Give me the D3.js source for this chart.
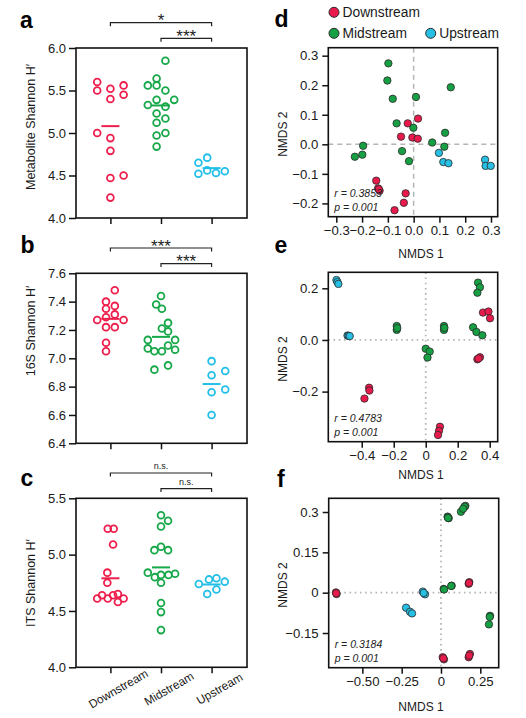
<!DOCTYPE html>
<html><head><meta charset="utf-8">
<script src="https://cdn.jsdelivr.net/npm/d3@7/dist/d3.min.js"></script>
<style>body{margin:0;background:#fff}svg{display:block}</style>
</head><body><svg id="c" width="526" height="718"></svg>
<script>
// ---------------- DATA ----------------
const groups = ["Downstream", "Midstream", "Upstream"];

// (a) Metabolite Shannon H'  (values + swarm slot, in half-diameter units)
const metaDown = [5.60, 5.50, 5.00, 5.52, 5.40, 4.94, 4.79, 4.47, 4.24, 5.56, 5.45, 4.50];
const metaDownSlot = [-3, -3, -3, 0, 0, 0, 0, 0, 0, 3, 3, 3];
const metaMid = [5.85, 5.64, 5.56, 5.56, 5.50, 5.39, 5.39, 5.33, 5.31, 5.23, 5.17, 5.12, 5.00, 4.97, 4.84];
const metaMidSlot = [1, -1, -3, -1, 1, -1, 3, -3, 1, -1, 1, -1, 1, -1, -1];
const metaUp = [4.71, 4.65, 4.56, 4.52, 4.53, 4.55];
const metaUpSlot = [-1, -3, -1, -3, 1, 3];
const metaTicks = [4.0, 4.5, 5.0, 5.5, 6.0];
const metaSig = ["*", "***"];

// (b) 16S Shannon H'
const rnaDown = [7.48, 7.40, 7.37, 7.35, 7.31, 7.29, 7.27, 7.27, 7.22, 7.22, 7.11, 7.05];
const rnaDownSlot = [1, -1, 1, -1, 1, -1, -3, 3, -1, 1, -1, -1];
const rnaMid = [7.44, 7.38, 7.35, 7.25, 7.21, 7.19, 7.13, 7.13, 7.07, 7.05, 7.05, 7.09, 7.06, 6.92, 6.95];
const rnaMidSlot = [0, -1.1, 0.2, 1.6, 0.2, 1.6, -3, 3.2, -3, -1.5, 0.2, 1.6, 3.2, -1.5, 1.6];
const rnaUp = [6.98, 6.91, 6.88, 6.78, 6.76, 6.60];
const rnaUpSlot = [0, 3.1, 0, 3.1, 0, 0];
const rnaTicks = [6.4, 6.6, 6.8, 7.0, 7.2, 7.4, 7.6];
const rnaSig = ["***", "***"];

// (c) ITS Shannon H'
const itsDown = [5.23, 5.23, 5.09, 4.84, 4.75, 4.61, 4.64, 4.61, 4.64, 4.65, 4.58, 4.61];
const itsDownSlot = [-0.6, 0.75, 0.6, -0.7, -0.7, -3, -1.9, -0.6, 0.6, 1.7, 1.7, 3];
const itsMid = [5.35, 5.30, 5.25, 5.04, 5.07, 5.04, 4.84, 4.80, 4.82, 4.82, 4.83, 4.75, 4.57, 4.49, 4.33];
const itsMidSlot = [0, 1.6, 0, -1.5, 0, 1.6, -3, -1.4, 0, 1.7, 3.2, 0, 0, 0, 0];
const itsUp = [4.74, 4.78, 4.79, 4.76, 4.69, 4.65];
const itsUpSlot = [-2.9, -0.6, 1.1, 3, 1.1, -1];
const itsTicks = [4.0, 4.5, 5.0, 5.5];
const itsSig = ["n.s.", "n.s."];

// (d) NMDS metabolites  [NMDS1, NMDS2]
const dDown = [[0.017,0.087],[-0.023,0.071],[-0.049,0.026],[-0.005,0.023],[0.016,0.019],[-0.145,-0.123],[-0.138,-0.149],[-0.132,-0.157],[-0.135,-0.152],[-0.031,-0.166],[-0.038,-0.198],[-0.074,-0.223]];
const dMid = [[-0.098,0.274],[-0.102,0.216],[-0.081,0.154],[0.009,0.160],[0.144,0.193],[-0.066,0.071],[-0.001,0.056],[0.122,0.039],[0.072,0.006],[0.119,-0.008],[-0.196,-0.005],[-0.199,-0.035],[-0.228,-0.042],[-0.045,-0.023],[-0.018,-0.057]];
const dUp = [[0.098,-0.029],[0.115,-0.060],[0.135,-0.064],[0.277,-0.052],[0.279,-0.073],[0.299,-0.073]];
const dXTicks = [-0.3, -0.2, -0.1, 0, 0.1, 0.2, 0.3];
const dXLabels = ["\u22120.3", "\u22120.2", "\u22120.1", "0.0", "0.1", "0.2", "0.3"];
const dYTicks = [-0.2, -0.1, 0, 0.1, 0.2, 0.3];
const dYLabels = ["\u22120.2", "\u22120.1", "0.0", "0.1", "0.2", "0.3"];
const dStats = ["r = 0.3853", "p = 0.001"];

// (e) NMDS 16S
const eDown = [[0.358,0.106],[0.392,0.110],[0.402,0.084],[0.323,-0.075],[0.339,-0.067],[0.330,-0.072],[-0.354,-0.185],[-0.352,-0.196],[-0.383,-0.227],[0.089,-0.336],[0.083,-0.352],[0.077,-0.368]];
const eMid = [[0.327,0.222],[0.339,0.204],[0.323,0.183],[0.296,0.049],[0.317,0.031],[0.354,0.018],[-0.181,0.054],[-0.181,0.039],[-0.178,0.046],[0.114,0.054],[0.114,0.039],[0.117,0.047],[0.000,-0.034],[0.025,-0.045],[0.011,-0.068]];
const eUp = [[-0.558,0.232],[-0.552,0.224],[-0.546,0.217],[-0.489,0.017],[-0.482,0.016],[-0.475,0.015]];
const eXTicks = [-0.4, -0.2, 0, 0.2, 0.4];
const eXLabels = ["\u22120.4", "\u22120.2", "0", "0.2", "0.4"];
const eYTicks = [-0.2, 0, 0.2];
const eYLabels = ["\u22120.2", "0.0", "0.2"];
const eStats = ["r = 0.4783", "p = 0.001"];

// (f) NMDS ITS
const fDown = [[-0.668,0.001],[-0.664,-0.005],[-0.666,-0.002],[0.180,0.039],[0.176,0.033],[0.178,0.036],[0.011,-0.240],[0.019,-0.248],[0.015,-0.244],[0.184,-0.228],[0.176,-0.240],[0.180,-0.234]];
const fMid = [[0.155,0.323],[0.150,0.320],[0.127,0.301],[0.141,0.312],[0.042,0.283],[0.049,0.277],[0.045,0.280],[0.045,0.278],[0.017,0.014],[0.020,0.012],[0.068,0.026],[0.065,0.025],[0.312,-0.086],[0.310,-0.090],[0.305,-0.118]];
const fUp = [[-0.116,0.004],[-0.102,-0.006],[-0.110,-0.001],[-0.222,-0.056],[-0.197,-0.071],[-0.184,-0.077]];
const fXTicks = [-0.5, -0.25, 0, 0.25];
const fXLabels = ["\u22120.50", "\u22120.25", "0", "0.25"];
const fYTicks = [-0.15, 0, 0.15, 0.3];
const fYLabels = ["\u22120.15", "0", "0.15", "0.3"];
const fStats = ["r = 0.3184", "p = 0.001"];

// ---------------- STYLE ----------------
const FONT = '"Liberation Sans", Arial, Helvetica, sans-serif';
const LINE = {Downstream: "#ee1f4d", Midstream: "#17a849", Upstream: "#22bfe8"};
const FILL = {Downstream: "#e8194b", Midstream: "#17a043", Upstream: "#27bfe3"};
const svg = d3.select("#c").attr("font-family", FONT);

function styleAxis(a, fs) {
  a.select(".domain").remove();
  a.selectAll(".tick line").attr("stroke", "#111").attr("stroke-width", 1.5);
  a.selectAll(".tick text").attr("font-size", fs).attr("fill", "#1a1a1a").attr("font-family", FONT);
}

function letter(t, x, y) {
  svg.append("text").attr("x", x).attr("y", y).attr("font-size", 23).attr("font-weight", "bold")
    .attr("fill", "#000").text(t);
}

// ---------------- SWARM PANELS ----------------
function swarmPanel(cfg) {
  const {top, bottom, domain, ticks, sets, title, titleY, sig, sigSmall, showCats} = cfg;
  const left = 76, right = 247;
  const g = svg.append("g");
  const x = d3.scalePoint().domain(groups).range([left, right - 1]).padding(0.68);
  const y = d3.scaleLinear().domain(domain).range([bottom, top]);
  const jx = d3.scaleLinear().domain([-1, 1]).range([-4.4, 4.4]);

  g.append("g").attr("transform", `translate(${left},0)`)
    .call(d3.axisLeft(y).tickValues(ticks).tickFormat(d3.format(".1f")).tickSize(7).tickPadding(3))
    .call(a => styleAxis(a, 13));
  g.append("g").attr("transform", `translate(0,${bottom})`)
    .call(d3.axisBottom(x).tickSize(6).tickFormat(""))
    .call(a => styleAxis(a, 12));
  g.append("rect").attr("x", left).attr("y", top).attr("width", right - left).attr("height", bottom - top)
    .attr("fill", "none").attr("stroke", "#111").attr("stroke-width", 1.6);

  sets.forEach(([vals, slots], i) => {
    const grp = groups[i];
    const cx = x(grp);
    const m = d3.mean(vals);
    g.append("line").attr("x1", cx - 9).attr("x2", cx + 9).attr("y1", y(m)).attr("y2", y(m))
      .attr("stroke", LINE[grp]).attr("stroke-width", 2);
    g.selectAll(null).data(vals).join("circle")
      .attr("cx", (d, k) => cx + jx(slots[k])).attr("cy", d => y(d)).attr("r", 3.4)
      .attr("fill", "none").attr("stroke", LINE[grp]).attr("stroke-width", 1.8);
  });

  // significance brackets
  const br = [[groups[0], groups[2], top - 25.3, sig[0]], [groups[1], groups[2], top - 9.7, sig[1]]];
  br.forEach(([a, b, yy, lab]) => {
    g.append("path").attr("d", `M${x(a)},${yy + 3.5}V${yy}H${x(b)}V${yy + 3.5}`)
      .attr("fill", "none").attr("stroke", "#222").attr("stroke-width", 1.2);
    g.append("text").attr("x", (x(a) + x(b)) / 2).attr("y", sigSmall ? yy - 3.6 : yy + 3.5)
      .attr("text-anchor", "middle").attr("font-size", sigSmall ? 9 : 17).attr("fill", "#222").text(lab);
  });

  g.append("text").attr("transform", `translate(31,${titleY}) rotate(-90)`).attr("text-anchor", "middle")
    .attr("dominant-baseline", "central").attr("font-size", 12.5).attr("fill", "#1a1a1a").text(title);

  if (showCats) {
    groups.forEach(grp => {
      g.append("text").attr("transform", `translate(${x(grp) + 8},${bottom + 21.5}) rotate(-30)`)
        .attr("text-anchor", "middle").attr("dominant-baseline", "central")
        .attr("font-size", 11.8).attr("fill", "#1a1a1a").text(grp);
    });
  }
}

swarmPanel({top: 48, bottom: 218, domain: [4.0, 6.0], ticks: metaTicks,
  sets: [[metaDown, metaDownSlot], [metaMid, metaMidSlot], [metaUp, metaUpSlot]],
  title: "Metabolite Shannon H\u2032", titleY: 127, sig: metaSig});
swarmPanel({top: 273.3, bottom: 443.3, domain: [6.4, 7.6], ticks: rnaTicks,
  sets: [[rnaDown, rnaDownSlot], [rnaMid, rnaMidSlot], [rnaUp, rnaUpSlot]],
  title: "16S Shannon H\u2032", titleY: 331, sig: rnaSig});
swarmPanel({top: 498.3, bottom: 667.3, domain: [4.0, 5.5], ticks: itsTicks,
  sets: [[itsDown, itsDownSlot], [itsMid, itsMidSlot], [itsUp, itsUpSlot]],
  title: "ITS Shannon H\u2032", titleY: 583, sig: itsSig, sigSmall: true, showCats: true});

letter("a", 20, 27.5);
letter("b", 20.5, 253);
letter("c", 20.5, 486);

// ---------------- NMDS PANELS ----------------
function nmdsPanel(cfg) {
  const {box: [l, r, t, b], xdom, ydom, xt, xl, yt, yl, sets, stats, dashed, xTitleY} = cfg;
  const g = svg.append("g");
  const x = d3.scaleLinear().domain(xdom).range([l, r]);
  const y = d3.scaleLinear().domain(ydom).range([b, t]);
  const dash = dashed ? "5,4" : "1.6,3.6";
  const refW = dashed ? 1.5 : 1.8;
  g.append("line").attr("x1", x(0)).attr("x2", x(0)).attr("y1", t).attr("y2", b)
    .attr("stroke", "#b5b5b5").attr("stroke-width", refW).attr("stroke-dasharray", dash);
  g.append("line").attr("x1", l).attr("x2", r).attr("y1", y(0)).attr("y2", y(0))
    .attr("stroke", "#b5b5b5").attr("stroke-width", refW).attr("stroke-dasharray", dash);

  g.append("g").attr("transform", `translate(${l},0)`)
    .call(d3.axisLeft(y).tickValues(yt).tickFormat((d, i) => yl[i]).tickSize(6).tickPadding(4))
    .call(a => styleAxis(a, 13.2));
  g.append("g").attr("transform", `translate(0,${b})`)
    .call(d3.axisBottom(x).tickValues(xt).tickFormat((d, i) => xl[i]).tickSize(6).tickPadding(3))
    .call(a => styleAxis(a, 13.2));
  g.append("rect").attr("x", l).attr("y", t).attr("width", r - l).attr("height", b - t)
    .attr("fill", "none").attr("stroke", "#111").attr("stroke-width", 1.6);

  sets.forEach((pts, i) => {
    g.selectAll(null).data(pts).join("circle")
      .attr("cx", d => x(d[0])).attr("cy", d => y(d[1])).attr("r", 3.7)
      .attr("fill", FILL[groups[i]]).attr("stroke", "#2a2a2a").attr("stroke-width", 0.8);
  });

  stats.forEach((s, i) => {
    g.append("text").attr("x", l + 6).attr("y", b - 19.5 + i * 14).attr("font-size", 10.5)
      .attr("font-style", "italic").attr("fill", "#222").text(s);
  });

  g.append("text").attr("x", 421).attr("y", xTitleY).attr("text-anchor", "middle")
    .attr("font-size", 12).attr("fill", "#1a1a1a").text("NMDS 1");
  g.append("text").attr("transform", `translate(283,${(t + b) / 2 + 2}) rotate(-90)`)
    .attr("text-anchor", "middle").attr("dominant-baseline", "central")
    .attr("font-size", 12).attr("fill", "#1a1a1a").text("NMDS 2");
}

nmdsPanel({box: [328.3, 497.7, 47.7, 216.7], xdom: [-0.331, 0.326], ydom: [-0.245, 0.327],
  xt: dXTicks, xl: dXLabels, yt: dYTicks, yl: dYLabels, sets: [dDown, dMid, dUp], stats: dStats,
  dashed: true, xTitleY: 258});
nmdsPanel({box: [328.3, 497.7, 272.3, 441.7], xdom: [-0.609, 0.450], ydom: [-0.394, 0.262],
  xt: eXTicks, xl: eXLabels, yt: eYTicks, yl: eYLabels, sets: [eDown, eMid, eUp], stats: eStats,
  dashed: false, xTitleY: 479});
nmdsPanel({box: [328.7, 498.7, 498.3, 667.7], xdom: [-0.714, 0.367], ydom: [-0.279, 0.351],
  xt: fXTicks, xl: fXLabels, yt: fYTicks, yl: fYLabels, sets: [fDown, fMid, fUp], stats: fStats,
  dashed: false, xTitleY: 711});

letter("d", 274.5, 27);
letter("e", 274.5, 252.5);
letter("f", 277, 487);

// legend
const legendPos = [[334, 12.3], [334, 33.3], [430.7, 33.3]];
groups.forEach((grp, i) => {
  const [lx, ly] = legendPos[i];
  svg.append("circle").attr("cx", lx).attr("cy", ly).attr("r", 5).attr("fill", FILL[grp])
    .attr("stroke", "#2a2a2a").attr("stroke-width", 1);
  svg.append("text").attr("x", lx + 8.5).attr("y", ly).attr("dominant-baseline", "central")
    .attr("font-size", 13.8).attr("fill", "#1a1a1a").text(grp);
});
</script></body></html>
